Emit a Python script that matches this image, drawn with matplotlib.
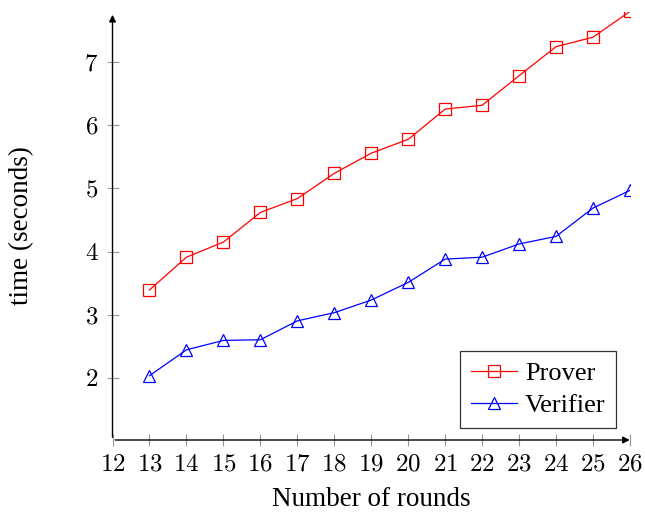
import matplotlib
matplotlib.use("Agg")
import matplotlib.pyplot as plt
from matplotlib.ticker import FuncFormatter

plt.rcParams['font.family'] = ['Liberation Serif', 'DejaVu Serif']
plt.rcParams['mathtext.fontset'] = 'cm'

# data
rounds = [13, 14, 15, 16, 17, 18, 19, 20, 21, 22, 23, 24, 25, 26]
prover = [3.39, 3.91, 4.15, 4.62, 4.84, 5.24, 5.56, 5.78, 6.26, 6.32, 6.79, 7.25, 7.40, 7.81]
verifier = [2.03, 2.44, 2.59, 2.60, 2.90, 3.03, 3.23, 3.51, 3.88, 3.91, 4.12, 4.24, 4.69, 4.97]
xticks = list(range(12, 27))
yticks = [2, 3, 4, 5, 6, 7]

fig = plt.figure(figsize=(6.45, 5.16), dpi=100)
ax = fig.add_axes([112.5/645, (516-440)/516, (630-112.5)/645, (440-12)/516])

ax.plot(rounds, prover, color='red', lw=0.9, marker='s', ms=8, mfc='none', mec='red', mew=0.9, label='Prover')
ax.plot(rounds, verifier, color='blue', lw=0.9, marker='^', ms=8, mfc='none', mec='blue', mew=0.9, label='Verifier')

ax.set_xlim(12, 26)
ax.set_ylim(1.01, 7.8)
ax.set_xticks(xticks)
ax.set_yticks(yticks)
ax.xaxis.set_major_formatter(FuncFormatter(lambda v, p: r'$%d$' % v))
ax.yaxis.set_major_formatter(FuncFormatter(lambda v, p: r'$%d$' % v))
ax.tick_params(axis='both', direction='inout', length=8, width=0.8, color='#999999', labelsize=18)
ax.tick_params(axis='x', pad=6)
ax.tick_params(axis='y', pad=6)

for s in ['top', 'right', 'left', 'bottom']:
    ax.spines[s].set_visible(False)
# axis lines with arrow heads, pgfplots style
ax.annotate('', xy=(1.005, 0), xytext=(0, 0), xycoords='axes fraction',
            arrowprops=dict(arrowstyle='-|>', lw=1.0, color='black', mutation_scale=10), annotation_clip=False)
ax.annotate('', xy=(0, 1.0), xytext=(0, 0), xycoords='axes fraction',
            arrowprops=dict(arrowstyle='-|>', lw=1.0, color='black', mutation_scale=10), annotation_clip=False)

ax.set_xlabel('Number of rounds', fontsize=19.5, labelpad=8)
ax.set_ylabel('time (seconds)', fontsize=19.5, labelpad=36)

leg = ax.legend(loc='lower right', bbox_to_anchor=(0.973, 0.028), borderaxespad=0, fontsize=19, frameon=True,
                fancybox=False, edgecolor='black', handlelength=1.75, handletextpad=0.3, borderpad=0.4,
                labelspacing=0.35)
leg.get_frame().set_linewidth(0.9)

fig.savefig('out.png', dpi=100)
